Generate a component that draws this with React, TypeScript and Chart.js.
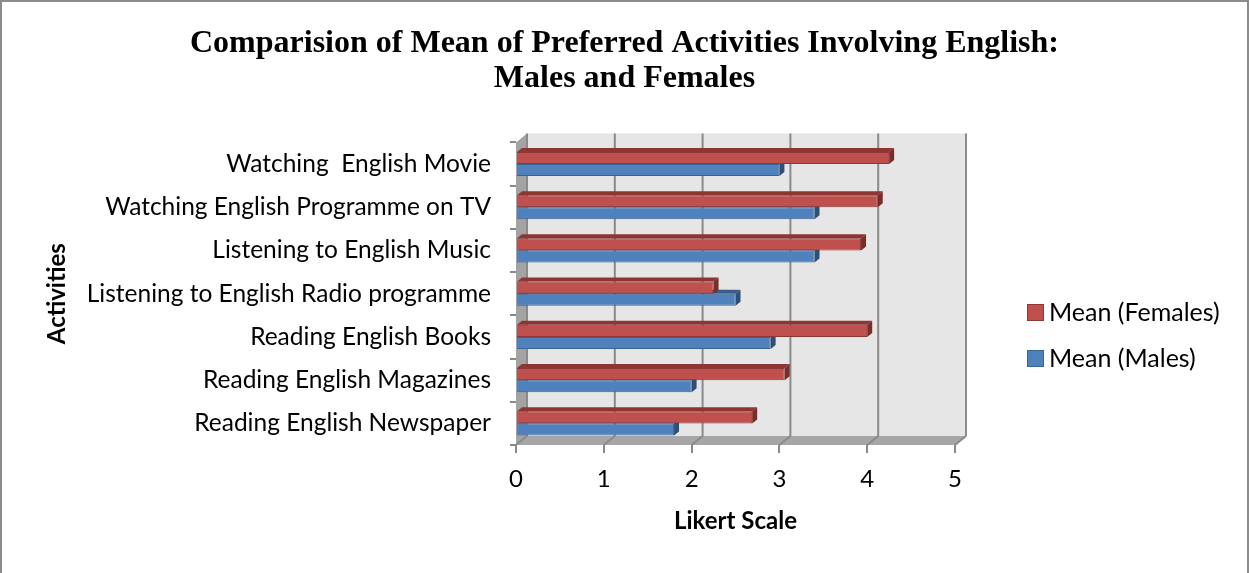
import React, { useEffect, useRef } from 'react';
import { Chart, registerables } from 'chart.js';

Chart.register(...registerables);

const categories = [
  'Watching  English Movie',
  'Watching English Programme on TV',
  'Listening to English Music',
  'Listening to English Radio programme',
  'Reading English Books',
  'Reading English Magazines',
  'Reading English Newspaper',
];
const femalesMean = [4.25, 4.12, 3.93, 2.25, 4.0, 3.06, 2.69];
const malesMean = [3.0, 3.4, 3.4, 2.5, 2.9, 2.0, 1.8];
const seriesLabels = ['Mean (Females)', 'Mean (Males)'];
const xMin = 0;
const xMax = 5;
const xStep = 1;
const titleLines = ['Comparision of Mean of Preferred Activities Involving English:', 'Males and Females'];
const xTitle = 'Likert Scale';
const yTitle = 'Activities';

const FONT = 'Lato, "Open Sans", sans-serif';
const DX = 11;
const DY = -9;
const BAR_DX = 5;
const BAR_DY = -4;

const faceColors = [
  { front: '#C0504D', top: '#8E3532', side: '#7A2C2A', border: '#8C3836' },
  { front: '#4F81BD', top: '#385D8A', side: '#2F4F77', border: '#3A6496' },
];

const wallsPlugin = {
  id: 'walls3d',
  beforeDraw(chart: any) {
    const ctx = chart.ctx;
    ctx.save();
    ctx.fillStyle = '#ffffff';
    ctx.fillRect(0, 0, chart.width, chart.height);
    ctx.strokeStyle = '#8c8c8c';
    ctx.lineWidth = 2;
    ctx.beginPath();
    ctx.moveTo(1, chart.height);
    ctx.lineTo(1, 1);
    ctx.lineTo(chart.width - 1, 1);
    ctx.lineTo(chart.width - 1, chart.height);
    ctx.stroke();
    ctx.restore();
  },
  beforeDatasetsDraw(chart: any) {
    const ctx = chart.ctx;
    const { left, right, top, bottom } = chart.chartArea;
    const xs = chart.scales.x;
    ctx.save();
    ctx.fillStyle = '#e6e6e6';
    ctx.fillRect(left + DX, top + DY, right - left, bottom - top);
    ctx.fillStyle = '#a3a3a3';
    ctx.beginPath();
    ctx.moveTo(left, top);
    ctx.lineTo(left + DX, top + DY);
    ctx.lineTo(left + DX, bottom + DY);
    ctx.lineTo(left, bottom);
    ctx.closePath();
    ctx.fill();
    ctx.fillStyle = '#a6a6a6';
    ctx.beginPath();
    ctx.moveTo(left, bottom);
    ctx.lineTo(right, bottom);
    ctx.lineTo(right + DX, bottom + DY);
    ctx.lineTo(left + DX, bottom + DY);
    ctx.closePath();
    ctx.fill();
    ctx.strokeStyle = '#8a8a8a';
    ctx.lineWidth = 2;
    for (let v = xMin; v <= xMax; v += xStep) {
      const px = xs.getPixelForValue(v);
      ctx.beginPath();
      ctx.moveTo(px + DX, top + DY);
      ctx.lineTo(px + DX, bottom + DY);
      ctx.stroke();
      ctx.beginPath();
      ctx.moveTo(px, bottom);
      ctx.lineTo(px + DX, bottom + DY);
      ctx.stroke();
    }
    for (let d = chart.data.datasets.length - 1; d >= 0; d--) {
      const meta = chart.getDatasetMeta(d);
      const c = faceColors[d];
      meta.data.forEach((el: any) => {
        const { x, y, base, height } = el.getProps(['x', 'y', 'base', 'height'], true);
        const t = y - height / 2;
        const b = y + height / 2;
        ctx.fillStyle = c.top;
        ctx.beginPath();
        ctx.moveTo(base, t);
        ctx.lineTo(base + BAR_DX, t + BAR_DY);
        ctx.lineTo(x + BAR_DX, t + BAR_DY);
        ctx.lineTo(x, t);
        ctx.closePath();
        ctx.fill();
        ctx.fillStyle = c.side;
        ctx.beginPath();
        ctx.moveTo(x, t);
        ctx.lineTo(x + BAR_DX, t + BAR_DY);
        ctx.lineTo(x + BAR_DX, b + BAR_DY);
        ctx.lineTo(x, b);
        ctx.closePath();
        ctx.fill();
      });
    }
    ctx.restore();
  },
  afterDraw(chart: any) {
    const ctx = chart.ctx;
    const { right } = chart.chartArea;
    ctx.save();
    const bx = right + 72;
    const y0 = 312;
    const gap = 46;
    chart.data.datasets.forEach((ds: any, i: number) => {
      const cy = y0 + i * gap;
      ctx.fillStyle = ds.backgroundColor;
      ctx.fillRect(bx, cy - 8, 17, 17);
      ctx.strokeStyle = ds.borderColor;
      ctx.lineWidth = 1;
      ctx.strokeRect(bx + 0.5, cy - 7.5, 16, 16);
      ctx.fillStyle = '#000';
      ctx.font = '25px ' + FONT;
      ctx.textBaseline = 'middle';
      ctx.textAlign = 'left';
      ctx.fillText(ds.label, bx + 22, cy + 1);
    });
    ctx.restore();
  },
};

export default function App() {
  const ref = useRef<HTMLCanvasElement | null>(null);
  useEffect(() => {
    document.body.style.margin = '0';
    const chart = new Chart(ref.current as HTMLCanvasElement, {
      type: 'bar',
      data: {
        labels: categories,
        datasets: [
          {
            label: seriesLabels[0],
            data: femalesMean,
            backgroundColor: faceColors[0].front,
            borderColor: faceColors[0].border,
            borderWidth: 1,
            barPercentage: 1,
            categoryPercentage: 0.56,
          },
          {
            label: seriesLabels[1],
            data: malesMean,
            backgroundColor: faceColors[1].front,
            borderColor: faceColors[1].border,
            borderWidth: 1,
            barPercentage: 1,
            categoryPercentage: 0.56,
          },
        ],
      },
      options: {
        indexAxis: 'y',
        animation: false,
        responsive: false,
        maintainAspectRatio: false,
        layout: { padding: 0 },
        plugins: {
          legend: { display: false },
          tooltip: { enabled: false },
          title: {
            display: true,
            text: titleLines,
            color: '#000',
            font: { family: '"Liberation Serif", "Times New Roman", serif', weight: 'bold', size: 32, lineHeight: 1.1 },
            padding: { top: 26, bottom: 46 },
          },
        },
        scales: {
          x: {
            type: 'linear',
            min: xMin,
            max: xMax,
            ticks: { stepSize: xStep, color: '#000', font: { family: FONT, size: 24 }, padding: 12 },
            grid: { drawOnChartArea: false, drawTicks: true, tickLength: 8, color: '#8a8a8a', lineWidth: 2 },
            border: { display: false },
            title: {
              display: true,
              text: xTitle,
              color: '#000',
              font: { family: FONT, size: 24, weight: 'bold' },
              padding: { top: 0, bottom: 37 },
            },
            afterFit: (scale: any) => {
              scale.height = 128;
            },
          },
          y: {
            ticks: { color: '#000', font: { family: FONT, size: 24.5 }, padding: 19 },
            grid: { drawOnChartArea: false, drawTicks: true, tickLength: 6, color: '#8a8a8a', lineWidth: 2, offset: true },
            border: { display: false },
            title: {
              display: true,
              text: yTitle,
              color: '#000',
              font: { family: FONT, size: 24, weight: 'bold' },
              padding: { top: 43, bottom: 0 },
            },
            afterFit: (scale: any) => {
              scale.width = 516;
            },
          },
          legendSpace: {
            type: 'linear',
            position: 'right',
            display: true,
            ticks: { display: false },
            grid: { display: false },
            border: { display: false },
            afterFit: (scale: any) => {
              scale.width = 294;
            },
          },
        },
      },
      plugins: [wallsPlugin],
    } as any);
    return () => chart.destroy();
  }, []);
  return (
    <div style={{ width: 1249, height: 573 }}>
      <canvas ref={ref} width={1249} height={573} style={{ display: 'block' }} />
    </div>
  );
}
